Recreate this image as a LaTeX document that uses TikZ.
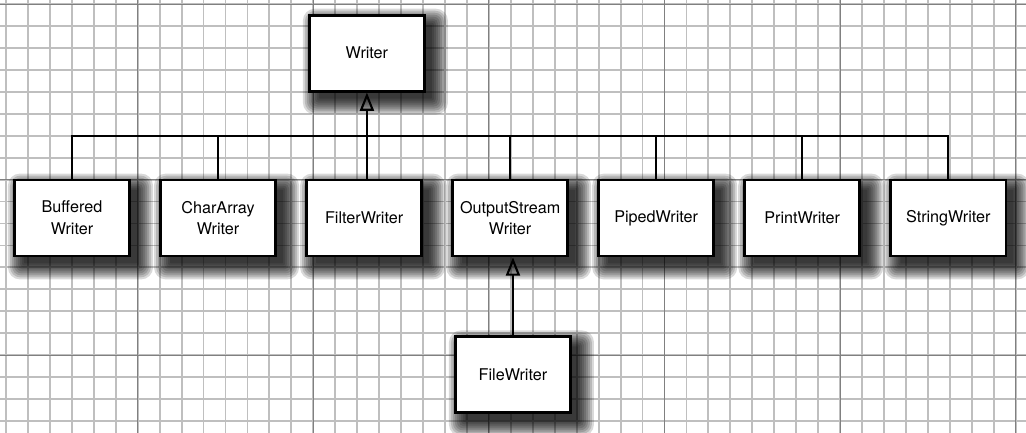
\documentclass[tikz,border=0pt]{standalone}
\usepackage{fontspec}
\setsansfont{TeX Gyre Heros}
\usepackage{tikz}
\usetikzlibrary{shapes, arrows.meta, positioning, calc, backgrounds}
\tikzset{
    base/.style={draw=black, line width=2pt, font=\sffamily\fontsize{11.5}{15.5}\selectfont, align=center, inner sep=4pt},
    block/.style={base, rectangle, fill=white, minimum width=2.88cm, minimum height=1.9cm},
    line/.style={draw=black, line width=1.4pt},
    inherit/.style={draw=black, line width=2pt, -{Triangle[open, length=13pt, width=10pt, line width=1.5pt]}},
    minorgrid/.style={draw=black!25, line width=1.3pt},
    majorgrid/.style={draw=black!50, line width=0.7pt},
    shadowlayer/.style={fill=black, opacity=0.15}
}

\begin{document}
\begin{tikzpicture}[x=0.025cm, y=-0.025cm, node distance=0.7cm]
    \useasboundingbox (0,0) rectangle (1026,433);

    % subclasses
    \node [block] (Buffered) at (72,218) {Buffered\\Writer};
    \node [block, right=of Buffered] (CharArray) {CharArray\\Writer};
    \node [block, right=of CharArray] (Filter) {FilterWriter};
    \node [block, right=of Filter] (OutputStream) {OutputStream\\Writer};
    \node [block, right=of OutputStream] (Piped) {PipedWriter};
    \node [block, right=of Piped] (Print) {PrintWriter};
    \node [block, right=of Print] (String) {StringWriter};

    \node [block, above=2.15cm of Filter, xshift=2pt] (Writer) {Writer};
    \node [block, below=1.95cm of OutputStream, xshift=2pt] (File) {FileWriter};

    \begin{pgfonlayer}{background}
        % grid paper
        \fill[white] (0,0) rectangle (1026,433);
        \foreach \i in {0,...,46}
            \draw[minorgrid] ({6+21.95*\i},0) -- ({6+21.95*\i},433);
        \foreach \j in {0,...,19}
            \draw[minorgrid] (0,{4+21.95*\j}) -- (1026,{4+21.95*\j});
        \foreach \i in {0,...,5}
            \draw[majorgrid] ({137.7+175.6*\i},0) -- ({137.7+175.6*\i},433);
        \foreach \j in {0,...,2}
            \draw[majorgrid] (0,{4+175.6*\j}) -- (1026,{4+175.6*\j});
        % soft drop shadows
        \foreach \n in {Writer, Buffered, CharArray, Filter, OutputStream, Piped, Print, String, File}
            \foreach \e in {14,12,...,-2}
                \fill[shadowlayer, rounded corners={(\e+3)*0.5pt}]
                    ($(\n.north west)+({9-\e},{9-\e})$) rectangle ($(\n.south east)+({8+\e},{8+\e})$);
    \end{pgfonlayer}

    % connectors
    \coordinate (bus) at ($(Writer.south)!0.5!(Filter.north)$);
    \draw [line] (Buffered.north) |- (bus) -| (String.north);
    \foreach \n in {CharArray, OutputStream, Piped, Print}
        \draw [line] (\n.north) -- (\n.north |- bus);
    \draw [inherit] (Filter.north -| Writer.south) -- (Writer.south);
    \draw [inherit] (File.north) -- (File.north |- OutputStream.south);
\end{tikzpicture}
\end{document}
